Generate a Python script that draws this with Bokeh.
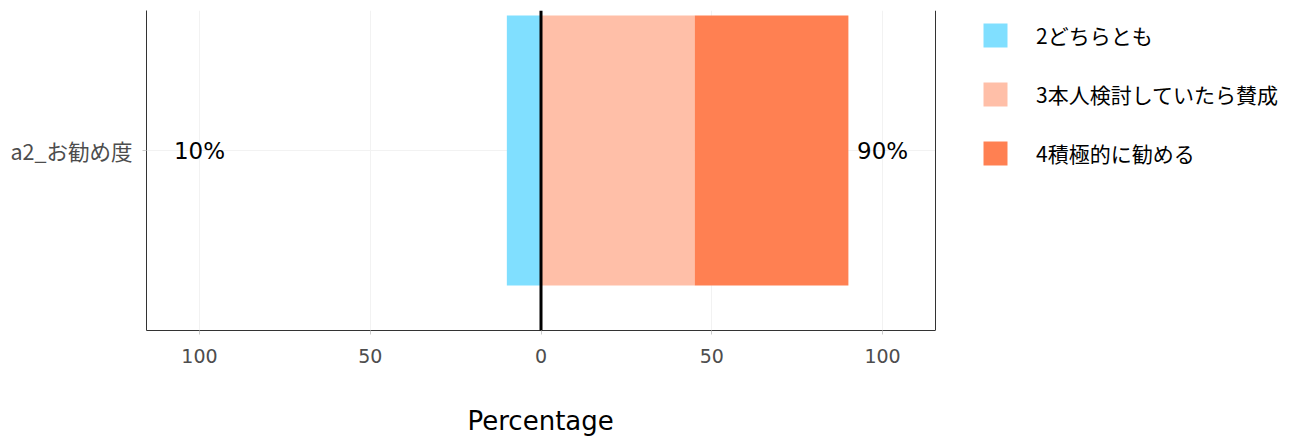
from bokeh.plotting import figure
from bokeh.models import (ColumnDataSource, Legend, LegendItem, FixedTicker,
                          Range1d, Span, Title)
from bokeh.embed import file_html
from bokeh.resources import INLINE

# ---- data ----
items = ["a2_お勧め度"]
item_pos = [1]
levels = ["2どちらとも", "3本人検討していたら賛成", "4積極的に勧める"]
values = [10, 45, 45]          # percentages per level
low_side = [True, False, False]  # which levels are drawn to the left
colors = ["#80DFFF", "#FFBFA8", "#FF8052"]
low_label = "10%"
high_label = "90%"
x_ticks = [-100, -50, 0, 50, 100]
x_tick_labels = ["100", "50", "0", "50", "100"]

JP = "Noto Sans CJK JP"
LAT = "DejaVu Sans"

X_LIM = 115.5               # panel limits (symmetric)
PANEL_W = 789               # px width of the data panel
FRAME_W = 1148              # frame also holds the legend area on the right
PX_PER_UNIT = PANEL_W / (2 * X_LIM)
x_end = -X_LIM + FRAME_W / PX_PER_UNIT

p = figure(frame_width=FRAME_W, frame_height=320, output_backend="svg", toolbar_location=None,
           x_range=Range1d(-X_LIM, x_end), y_range=Range1d(0.4, 1.4667),
           min_border_left=146, min_border_top=10, min_border_right=0,
           min_border_bottom=104)
p.outline_line_color = None
p.background_fill_color = "white"

# horizontal grid line limited to the data panel
gsrc = ColumnDataSource(dict(x0=[-X_LIM] * len(item_pos), x1=[X_LIM] * len(item_pos),
                             y=item_pos))
p.segment(x0="x0", x1="x1", y0="y", y1="y", source=gsrc, line_color="#f2f2f2",
          line_width=1, level="underlay")

# build stacked segments
left_cur, right_cur = 0.0, 0.0
renderers = []
for lvl, v, low, c in zip(levels, values, low_side, colors):
    if low:
        l, r = left_cur - v, left_cur
        left_cur -= v
    else:
        l, r = right_cur, right_cur + v
        right_cur += v
    src = ColumnDataSource(dict(y=item_pos, left=[l], right=[r]))
    rr = p.hbar(y="y", left="left", right="right", height=0.9, source=src,
                fill_color=c, line_color=None)
    renderers.append(rr)

# percentage labels
lab = ColumnDataSource(dict(x=[-100, 100], y=item_pos * 2, t=[low_label, high_label]))
p.text(x="x", y="y", text="t", source=lab, text_align="center",
       text_baseline="middle", text_font_size="23px", text_color="black",
       text_font={"value": LAT})

# zero line and right panel border
p.add_layout(Span(location=0, dimension="height", line_color="black", line_width=3))
p.add_layout(Span(location=X_LIM, dimension="height", line_color="#333333", line_width=1))

# axes
p.xaxis.bounds = (-X_LIM, X_LIM)
p.xaxis.ticker = FixedTicker(ticks=x_ticks)
p.xaxis.major_label_overrides = {t: s for t, s in zip(x_ticks, x_tick_labels)}
p.xaxis.major_label_text_font = LAT
p.xaxis.major_label_text_font_size = "19px"
p.xaxis.major_label_text_color = "#4d4d4d"
p.xaxis.major_label_standoff = 14
p.xaxis.minor_tick_line_color = None
p.xaxis.major_tick_line_color = "#cccccc"
p.xaxis.major_tick_out = 4
p.xaxis.major_tick_in = 0
p.xaxis.axis_line_color = "#333333"

# x axis title centred under the data panel
xt = Title(text="Percentage", align="left", offset=321, standoff=76,
           text_font=LAT, text_font_size="26px", text_font_style="normal",
           text_color="black")
p.add_layout(xt, "below")

p.yaxis.ticker = FixedTicker(ticks=item_pos)
p.yaxis.major_label_overrides = {pos: name for pos, name in zip(item_pos, items)}
p.yaxis.major_label_text_font = JP
p.yaxis.major_label_text_font_size = "21.5px"
p.yaxis.major_label_text_color = "#4d4d4d"
p.yaxis.major_label_standoff = 10
p.yaxis.minor_tick_line_color = None
p.yaxis.major_tick_line_color = "#cccccc"
p.yaxis.major_tick_out = 4
p.yaxis.major_tick_in = 0
p.yaxis.axis_line_color = "#333333"

p.xgrid.ticker = FixedTicker(ticks=x_ticks)
p.xgrid.grid_line_color = "#f2f2f2"
p.ygrid.grid_line_color = None

# legend (placed in screen px relative to frame's bottom-left)
legend = Legend(items=[LegendItem(label=l, renderers=[r]) for l, r in zip(levels, renderers)],
                location=(834, 162), orientation="vertical",
                glyph_width=30, glyph_height=30, label_height=30,
                label_standoff=26, spacing=29, padding=0, margin=0,
                border_line_color=None, background_fill_alpha=0,
                label_text_font=JP, label_text_font_size="21px",
                label_text_color="black")
p.add_layout(legend, "center")

open("out.html", "w").write(file_html(p, INLINE))
